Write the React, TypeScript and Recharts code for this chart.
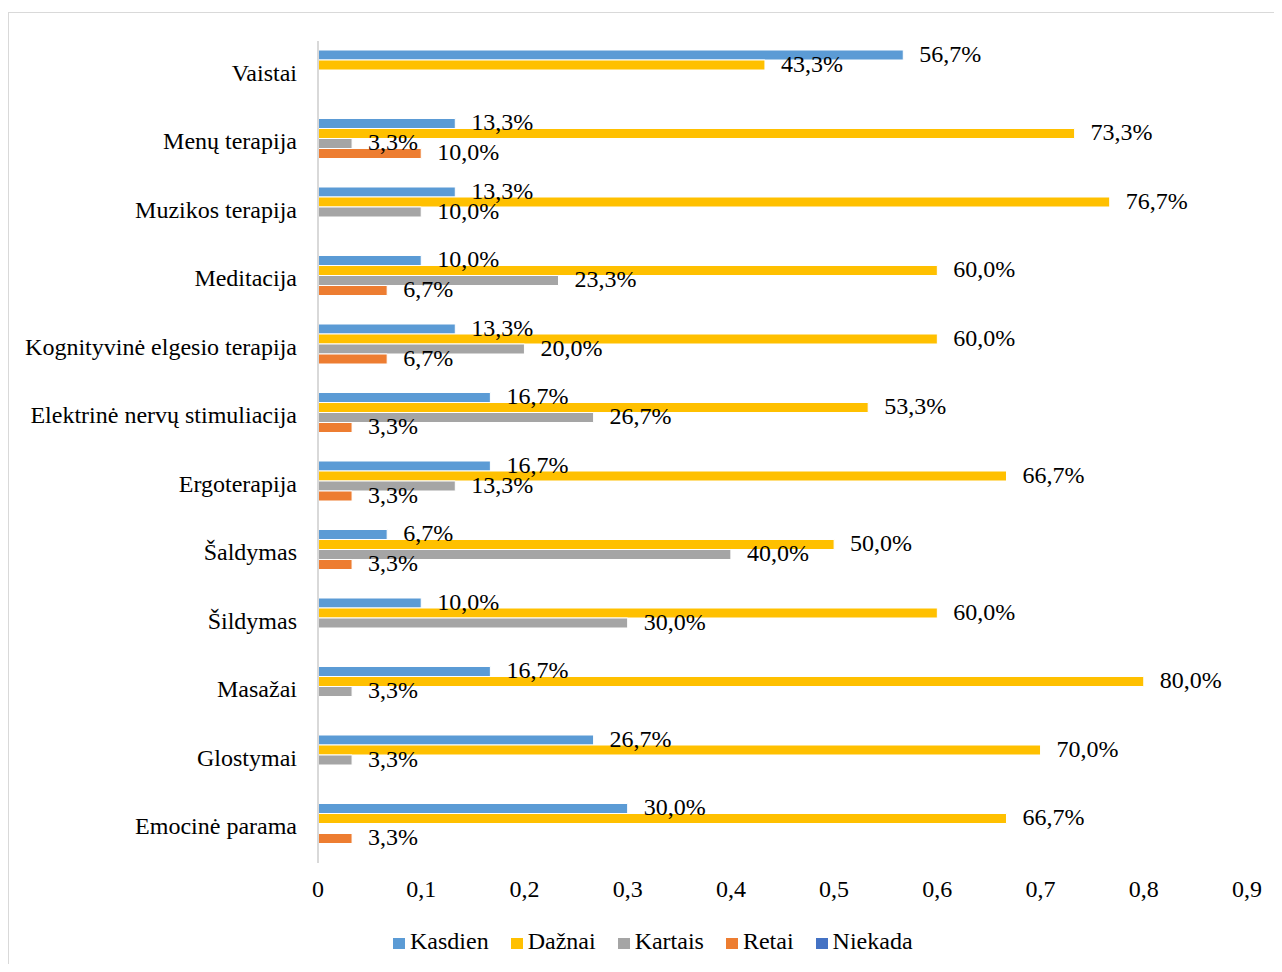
import React from "react";
import { BarChart, Bar, XAxis, YAxis, Legend, LabelList } from "recharts";

// categories, top to bottom
const categories = [
  "Vaistai",
  "Menų terapija",
  "Muzikos terapija",
  "Meditacija",
  "Kognityvinė elgesio terapija",
  "Elektrinė nervų stimuliacija",
  "Ergoterapija",
  "Šaldymas",
  "Šildymas",
  "Masažai",
  "Glostymai",
  "Emocinė parama",
];

// shares per answer (null = no answer in that group)
const kasdien = [0.567, 0.133, 0.133, 0.1, 0.133, 0.167, 0.167, 0.067, 0.1, 0.167, 0.267, 0.3];
const daznai = [0.433, 0.733, 0.767, 0.6, 0.6, 0.533, 0.667, 0.5, 0.6, 0.8, 0.7, 0.667];
const kartais = [null, 0.033, 0.1, 0.233, 0.2, 0.267, 0.133, 0.4, 0.3, 0.033, 0.033, null];
const retai = [null, 0.1, null, 0.067, 0.067, 0.033, 0.033, 0.033, null, null, null, 0.033];
const niekada = [null, null, null, null, null, null, null, null, null, null, null, null];

const xTicks = [0, 0.1, 0.2, 0.3, 0.4, 0.5, 0.6, 0.7, 0.8, 0.9];

const series = [
  { key: "kasdien", name: "Kasdien", color: "#5B9BD5" },
  { key: "daznai", name: "Dažnai", color: "#FFC000" },
  { key: "kartais", name: "Kartais", color: "#A5A5A5" },
  { key: "retai", name: "Retai", color: "#ED7D31" },
  { key: "niekada", name: "Niekada", color: "#4472C4" },
];

const data = categories.map((name, i) => ({
  name,
  kasdien: kasdien[i],
  daznai: daznai[i],
  kartais: kartais[i],
  retai: retai[i],
  niekada: niekada[i],
}));

const FONT = '"Liberation Serif", "Times New Roman", serif';

const pct = (v: any) =>
  v == null ? "" : (v * 100).toFixed(1).replace(".", ",") + "%";

const tickFmt = (v: number) => (v === 0 ? "0" : v.toFixed(1).replace(".", ","));

const renderLegend = () => (
  <div style={{ whiteSpace: "nowrap", fontSize: 24, lineHeight: "28px", color: "#000", fontFamily: FONT }}>
    {series.map((s) => (
      <span key={s.key} style={{ marginRight: 22 }}>
        <span
          style={{
            display: "inline-block",
            width: 12,
            height: 11,
            background: s.color,
            marginRight: 5,
            verticalAlign: "baseline",
          }}
        />
        {s.name}
      </span>
    ))}
  </div>
);

export default function App() {
  return (
    <div
      style={{
        position: "relative",
        margin: -8,
        width: 1282,
        height: 972,
        overflow: "hidden",
        background: "#fff",
        fontFamily: FONT,
      }}
    >
      {/* chart frame, only its top and left edges fall inside the view */}
      <div
        style={{
          position: "absolute",
          left: 8,
          top: 12,
          width: 1400,
          height: 1100,
          borderTop: "1px solid #d9d9d9",
          borderLeft: "1px solid #d9d9d9",
        }}
      />
      <div style={{ position: "absolute", left: 0, top: 0 }}>
        <BarChart
          width={1282}
          height={972}
          data={data}
          layout="vertical"
          barGap={0}
          margin={{ top: 41, right: 35, bottom: 49, left: 0 }}
        >
          <XAxis
            type="number"
            domain={[0, 0.9]}
            ticks={xTicks}
            tickFormatter={tickFmt}
            interval={0}
            axisLine={false}
            tickLine={false}
            tickSize={0}
            tickMargin={17}
            height={60}
            tick={{ fontSize: 24, fill: "#000", fontFamily: FONT }}
          />
          <YAxis
            type="category"
            dataKey="name"
            width={318}
            interval={0}
            axisLine={{ stroke: "#d9d9d9", strokeWidth: 2 }}
            tickLine={false}
            tickSize={0}
            tickMargin={21}
            tick={{ fontSize: 24, fill: "#000", fontFamily: FONT, dy: -3 }}
          />
          <Legend
            verticalAlign="middle"
            align="center"
            layout="horizontal"
            content={renderLegend}
            wrapperStyle={{ top: 927, left: 393, width: "auto" }}
          />
          {series.map((s) => (
            <Bar
              key={s.key}
              dataKey={s.key}
              name={s.name}
              fill={s.color}
              stroke="#fff"
              strokeWidth={1}
              barSize={10}
              isAnimationActive={false}
            >
              <LabelList
                dataKey={s.key}
                position="right"
                offset={16}
                dy={-2}
                formatter={pct}
                fontSize={24}
                fill="#000"
                fontFamily={FONT}
              />
            </Bar>
          ))}
        </BarChart>
      </div>
    </div>
  );
}
